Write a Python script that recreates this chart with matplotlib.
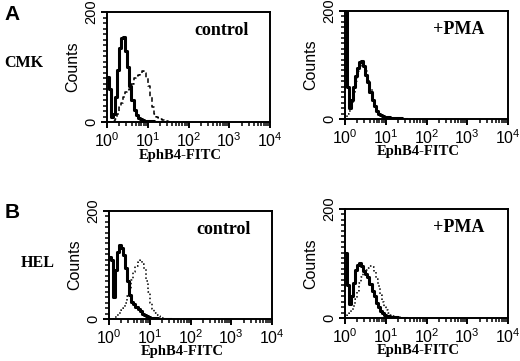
import numpy as np
import matplotlib.pyplot as plt
from matplotlib.ticker import FixedLocator, LogLocator, NullFormatter

# log10 fluorescence bins (0.05 decade)
logx = np.arange(31) * 0.05

cmk_ctrl_solid = [82, 60, 10, 15, 45, 95, 135, 152, 155, 130, 100, 65, 40, 22, 13, 8,
                  5, 3, 2, 2, 1, 1, 1, 0, 0, 0, 0, 0, 0, 0, 0]
cmk_ctrl_dash = [0, 0, 0, 2, 6, 15, 28, 35, 45, 55, 58, 60, 70, 80, 84, 85,
                 88, 92, 90, 80, 66, 45, 28, 15, 10, 8, 6, 4, 2, 1, 0]
cmk_pma_solid = [210, 60, 20, 35, 60, 80, 95, 105, 108, 98, 82, 68, 50, 35, 24, 15,
                 10, 7, 5, 4, 3, 3, 2, 2, 2, 1, 1, 1, 0, 0, 0]
cmk_pma_dot = [0, 10, 15, 28, 45, 70, 88, 98, 100, 98, 88, 72, 55, 38, 26, 16,
               10, 7, 5, 3, 2, 2, 1, 1, 0, 0, 0, 0, 0, 0, 0]
hel_ctrl_solid = [115, 110, 40, 90, 125, 138, 132, 118, 95, 70, 45, 32, 27, 22, 18, 14,
                  10, 7, 5, 3, 2, 2, 1, 1, 0, 0, 0, 0, 0, 0, 0]
hel_ctrl_dot = [0, 0, 0, 3, 8, 12, 16, 20, 30, 42, 55, 72, 88, 98, 105, 110,
                102, 92, 70, 50, 30, 18, 11, 7, 5, 3, 2, 1, 0, 0, 0]
hel_pma_solid = [120, 60, 25, 40, 65, 88, 98, 101, 95, 86, 80, 75, 62, 50, 40, 28,
                 20, 13, 9, 6, 4, 3, 2, 2, 1, 1, 0, 0, 0, 0, 0]
hel_pma_dot = [0, 5, 10, 15, 22, 35, 50, 65, 75, 82, 88, 92, 95, 94, 85, 72,
               58, 42, 30, 20, 14, 9, 6, 4, 3, 2, 1, 0, 0, 0, 0]

serif = ['Liberation Serif', 'DejaVu Serif']
sans = ['Liberation Sans', 'DejaVu Sans']

fig = plt.figure(figsize=(5.2, 3.61), dpi=100)

panels = [
    ([0.2058, 0.662, 0.3135, 0.3047], cmk_ctrl_solid, cmk_ctrl_dash, (0, (3, 2)), 'control'),
    ([0.6635, 0.6704, 0.3135, 0.299], cmk_pma_solid, cmk_pma_dot, ':', '+PMA'),
    ([0.2096, 0.1163, 0.3135, 0.299], hel_ctrl_solid, hel_ctrl_dot, ':', 'control'),
    ([0.6635, 0.1191, 0.3135, 0.302], hel_pma_solid, hel_pma_dot, ':', '+PMA'),
]

for rect, solid, other, ls, label in panels:
    ax = fig.add_axes(rect)
    x = 10 ** logx
    ax.plot(x, other, color='black', lw=1.1, ls=ls, drawstyle='steps-post')
    ax.plot(x, solid, color='black', lw=2.2, drawstyle='steps-post')
    ax.set_xscale('log')
    ax.set_xlim(1, 1e4)
    ax.set_ylim(0, 200)
    for s in ax.spines.values():
        s.set_linewidth(1.4)
    ax.set_yticks([0, 200])
    ax.yaxis.set_minor_locator(FixedLocator(np.arange(0, 201, 10)))
    ax.set_yticklabels(['0', '200'], rotation=90, va='center', family=sans, fontsize=10.5)
    ax.xaxis.set_major_locator(LogLocator(base=10, numticks=10))
    ax.xaxis.set_minor_locator(LogLocator(base=10, subs=np.arange(2, 10), numticks=10))
    ax.xaxis.set_minor_formatter(NullFormatter())
    ax.tick_params(axis='both', which='major', length=4.5, width=1.4, direction='out', pad=2)
    ax.tick_params(axis='both', which='minor', length=3, width=1.1, direction='out')
    for t in ax.get_xticklabels():
        t.set_fontsize(11.5)
        t.set_family(sans)
    ax.set_ylabel('Counts', family=sans, fontsize=11.5, labelpad=3)
    ax.text(0.45, -0.30, 'EphB4-FITC', transform=ax.transAxes, ha='center', va='center',
            family=serif, fontweight='bold', fontsize=10.5)
    ax.text(0.70, 0.83, label, transform=ax.transAxes, ha='center', va='center',
            family=serif, fontweight='bold', fontsize=13)

fig.text(0.008, 0.96, 'A', family=sans, fontweight='bold', fontsize=15, va='center')
fig.text(0.008, 0.41, 'B', family=sans, fontweight='bold', fontsize=15, va='center')
fig.text(0.008, 0.825, 'CMK', family=serif, fontweight='bold', fontsize=11.5, va='center')
fig.text(0.04, 0.272, 'HEL', family=serif, fontweight='bold', fontsize=11.5, va='center')

fig.savefig('out.png', dpi=100)
